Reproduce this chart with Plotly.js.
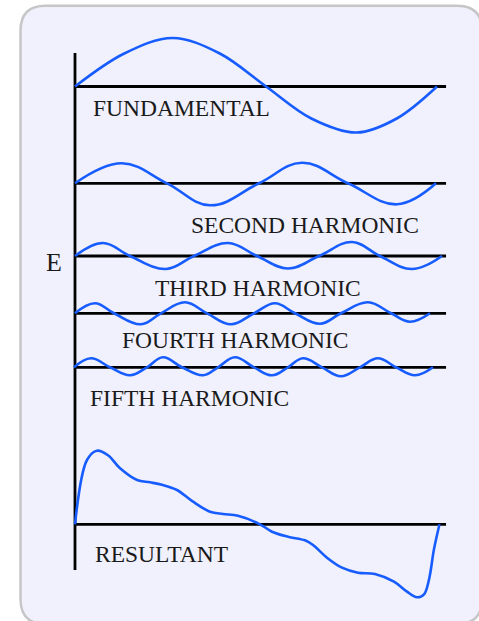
<!DOCTYPE html>
<html>
<head>
<meta charset="utf-8">
<script src="https://cdn.plot.ly/plotly-3.0.1.min.js"></script>
<style>
  html, body { margin: 0; padding: 0; background: #ffffff; }
  #chart { width: 479px; height: 621px; }
</style>
</head>
<body>
<div id="chart"></div>
<script>
// Phase along the fundamental (degrees) and instantaneous E for each wave.
const fundamentalX = [0, 49, 97, 144, 190, 235, 280, 320, 360];
const fundamentalE = [0, 33, 48.5, 33, 0, -32, -46, -32, 0];

const secondX = [0, 46.7, 91.5, 134.3, 183, 225.7, 271.5, 320.2, 359];
const secondE = [0, 20, 0, -22, 0, 20.5, 0, -21, 0];

const thirdX = [0, 27.8, 54.7, 90.5, 118.3, 152.2, 181, 211.8, 242.7, 275.5, 303.3, 335.1, 365];
const thirdE = [0, 13, 0, -13, 0, 13, 0, -12.5, 0, 14, 0, -13, 0];

const fourthX = [0, 19.9, 38.8, 65.6, 85.5, 109.4, 131.3, 155.1, 178, 198.9, 218.8, 243.6, 264.5, 291.4, 314.3, 333.1, 353];
const fourthE = [0, 10, 0, -11, 0, 11, 0, -11, 0, 10, 0, -10.5, 0, 11, 0, -8.5, 0];

const fifthX = [-1, 15.9, 34.8, 54.7, 71.6, 87.5, 106.4, 127.3, 142.2, 159.1, 178, 195.9, 211.8, 226.7, 245.6, 264.5, 283.4, 301.3, 319.2, 338.1, 356];
const fifthE = [0, 9, 0, -8, 0, 10, 0, -8, 0, 10, 0, -8, 0, 9, 0, -9, 0, 9, 0, -8, 0];

const resultantX = [0, 11.9, 21.9, 32.8, 44.8, 61.7, 74.6, 86.5, 101.4, 117.4, 134.3, 147.2, 162.1, 184, 195.9, 211.8, 228.7, 236.7, 250.6, 265.5, 281.4, 298.3, 317.2, 330.2, 340.1, 347.1, 352, 357, 362.5];
const resultantE = [0, 64.3, 73.6, 69, 56, 44.3, 42, 39.5, 34.3, 22.6, 12.6, 10.3, 8.5, 0, -7.4, -12.4, -16, -20.7, -33.4, -43.4, -48.4, -49.7, -57.4, -67.4, -73, -70, -55.4, -25, 0];

const waveNames = ['FUNDAMENTAL', 'SECOND HARMONIC', 'THIRD HARMONIC', 'FOURTH HARMONIC', 'FIFTH HARMONIC', 'RESULTANT'];
const axisName = 'E';

// ---- layout constants ----
const W = 479, H = 621;
const ORIGIN_PX = 75;            // horizontal position of the E axis
const PX_PER_DEG = 362 / 360;    // horizontal scale
const rows = [86.5, 183.3, 256, 313.3, 367.3, 524.3];   // zero line of each wave (down the page)
const baseEnd = 369;             // zero lines run to this phase
const labelPos = [              // [phase, row] centre of each caption
  [106.4, 108], [228.7, 225], [182.3, 288], [159.4, 340], [113.5, 398], [86.2, 554]
];
const BLUE = '#175cff';
const INK = '#1a1a1a';
const SERIF = 'Liberation Serif, Times New Roman, serif';

const waves = [
  [fundamentalX, fundamentalE, 1], [secondX, secondE, 1.15], [thirdX, thirdE, 1.15],
  [fourthX, fourthE, 1.15], [fifthX, fifthE, 1.15], [resultantX, resultantE, 1]
];

const traces = waves.map(([xs, es, sm], i) => ({
  type: 'scatter', mode: 'lines',
  x: xs, y: es.map(e => rows[i] - e),
  line: { color: BLUE, width: 2.6, shape: 'spline', smoothing: sm },
  hoverinfo: 'skip', showlegend: false
}));

// rounded panel behind the diagram, in paper fractions
const px = v => v / W, py = v => 1 - v / H;
const L = 20.5, T = 5.7, R = 482, B = 624, RAD = 25;
const panelPath =
  `M ${px(L + RAD)} ${py(T)} L ${px(R - RAD)} ${py(T)} ` +
  `Q ${px(R)} ${py(T)} ${px(R)} ${py(T + RAD)} L ${px(R)} ${py(B - RAD)} ` +
  `Q ${px(R)} ${py(B)} ${px(R - RAD)} ${py(B)} L ${px(L + RAD)} ${py(B)} ` +
  `Q ${px(L)} ${py(B)} ${px(L)} ${py(B - RAD)} L ${px(L)} ${py(T + RAD)} ` +
  `Q ${px(L)} ${py(T)} ${px(L + RAD)} ${py(T)} Z`;

const shapes = [{
  type: 'path', xref: 'paper', yref: 'paper', path: panelPath,
  fillcolor: '#f0f1fc', line: { color: '#c6c6c8', width: 2.5 }, layer: 'below'
}];
rows.forEach(r => shapes.push({
  type: 'line', xref: 'x', yref: 'y', x0: 0, x1: baseEnd, y0: r, y1: r,
  line: { color: '#000000', width: 2.8 }, layer: 'below'
}));
shapes.push({
  type: 'line', xref: 'x', yref: 'y', x0: 0, x1: 0, y0: 53, y1: 570,
  line: { color: '#000000', width: 2.8 }, layer: 'below'
});

const annotations = waveNames.map((t, i) => ({
  text: t, xref: 'x', yref: 'y', x: labelPos[i][0], y: labelPos[i][1],
  xanchor: 'center', yanchor: 'middle', showarrow: false,
  font: { family: SERIF, size: 23.5, color: INK }
}));
annotations.push({
  text: axisName, xref: 'x', yref: 'y', x: -20.9, y: 262,
  xanchor: 'center', yanchor: 'middle', showarrow: false,
  font: { family: SERIF, size: 26, color: INK }
});

const layout = {
  width: W, height: H,
  margin: { l: 0, r: 0, t: 0, b: 0, pad: 0 },
  paper_bgcolor: '#ffffff', plot_bgcolor: 'rgba(0,0,0,0)',
  xaxis: { range: [-ORIGIN_PX / PX_PER_DEG, (W - ORIGIN_PX) / PX_PER_DEG],
           visible: false, fixedrange: true },
  yaxis: { range: [H, 0], visible: false, fixedrange: true },
  shapes, annotations, showlegend: false
};

Plotly.newPlot('chart', traces, layout, { staticPlot: true, displayModeBar: false });
</script>
</body>
</html>
